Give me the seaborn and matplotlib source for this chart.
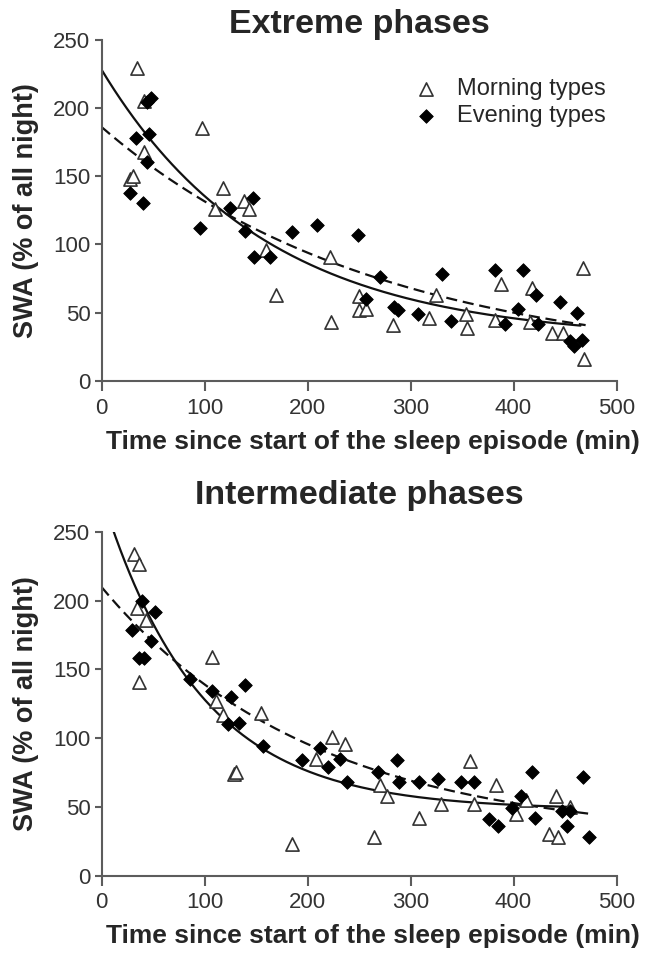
import numpy as np
import pandas as pd
import matplotlib
matplotlib.use("Agg")
import matplotlib.pyplot as plt
import seaborn as sns

# ---------------------------------------------------------------------------
# Slow-wave activity per sleep cycle, expressed as % of the all-night mean
# ---------------------------------------------------------------------------
groups = ["Morning types", "Evening types"]

# Extreme phases
ext_morning_time = [34, 41, 98, 41, 28, 31, 118, 138, 143, 110,
                    160, 169, 222, 223, 250, 250, 257, 283, 318, 325,
                    354, 355, 382, 388, 416, 418, 437, 448, 467, 468]
ext_morning_swa = [229, 205, 185, 168, 148, 150, 141, 132, 126, 126,
                   96, 63, 91, 43, 62, 52, 53, 41, 46, 63,
                   49, 39, 45, 71, 43, 68, 35, 35, 83, 16]
ext_evening_time = [44, 48, 33, 46, 44, 28, 40, 96, 125, 147,
                    139, 148, 164, 185, 209, 249, 270, 257, 284, 288,
                    307, 331, 339, 382, 392, 404, 409, 422, 424, 445,
                    455, 459, 466, 462]
ext_evening_swa = [204, 207, 178, 181, 160, 138, 130, 112, 127, 134,
                   110, 91, 91, 109, 114, 107, 76, 60, 54, 52,
                   49, 78, 44, 81, 42, 53, 81, 63, 42, 58,
                   29, 26, 30, 50]

# Intermediate phases
int_morning_time = [32, 36, 34, 43, 36, 107, 111, 118, 155, 224,
                    236, 129, 131, 208, 185, 265, 270, 277, 308, 330,
                    358, 362, 383, 402, 412, 434, 441, 443, 455]
int_morning_swa = [234, 227, 195, 186, 141, 159, 127, 117, 118, 101,
                   96, 74, 75, 85, 23, 28, 66, 58, 42, 52,
                   83, 52, 66, 45, 55, 30, 58, 28, 50]
int_evening_time = [39, 52, 30, 48, 36, 41, 86, 107, 126, 139,
                    123, 133, 157, 195, 212, 220, 232, 238, 268, 287,
                    289, 308, 327, 349, 362, 376, 385, 399, 407, 418,
                    421, 447, 452, 455, 467, 473]
int_evening_swa = [200, 192, 179, 171, 158, 158, 143, 134, 130, 139,
                   110, 111, 94, 84, 93, 79, 85, 68, 75, 84,
                   68, 68, 70, 68, 68, 41, 36, 49, 58, 75,
                   42, 47, 36, 47, 72, 28]

# One-phase exponential decay fits (morning, evening):
# SWA(t) = plateau + (start - plateau) * exp(-rate * t)
ext_fit_start = [228, 186]
ext_fit_plateau = [30, 10]
ext_fit_rate = [0.0063, 0.0037]
ext_fit_end = [465, 470]

int_fit_start = [277, 210]
int_fit_plateau = [48, 27]
int_fit_rate = [0.0105, 0.0049]
int_fit_end = [455, 473]

panel_titles = ["Extreme phases", "Intermediate phases"]
x_ticks = [0, 100, 200, 300, 400, 500]
y_ticks = [0, 50, 100, 150, 200, 250]
x_label = "Time since start of the sleep episode (min)"
y_label = "SWA (% of all night)"

# ---------------------------------------------------------------------------
sns.set_style("ticks")
plt.rcParams["font.family"] = ["Liberation Sans", "DejaVu Sans"]

AXIS_GREY = "#5c5c5c"
TICK_TEXT = "#333333"


def points_frame(m_t, m_y, e_t, e_y):
    return pd.concat([
        pd.DataFrame({"time": m_t, "swa": m_y, "group": groups[0]}),
        pd.DataFrame({"time": e_t, "swa": e_y, "group": groups[1]}),
    ], ignore_index=True)


def fit_frame(start, plateau, rate, end):
    frames = []
    for g, s0, p, k, t_end in zip(groups, start, plateau, rate, end):
        t = np.linspace(0, t_end, 300)
        frames.append(pd.DataFrame({"time": t,
                                    "swa": p + (s0 - p) * np.exp(-k * t),
                                    "group": g}))
    return pd.concat(frames, ignore_index=True)


panels = [
    (points_frame(ext_morning_time, ext_morning_swa, ext_evening_time, ext_evening_swa),
     fit_frame(ext_fit_start, ext_fit_plateau, ext_fit_rate, ext_fit_end)),
    (points_frame(int_morning_time, int_morning_swa, int_evening_time, int_evening_swa),
     fit_frame(int_fit_start, int_fit_plateau, int_fit_rate, int_fit_end)),
]

fig = plt.figure(figsize=(6.47, 9.6), dpi=100)
axes = [fig.add_axes([0.1569, 0.6031, 0.7960, 0.3557]),
        fig.add_axes([0.1569, 0.0880, 0.7960, 0.3578])]

for i, (ax, (pts, fit), title) in enumerate(zip(axes, panels, panel_titles)):
    morning_fit = fit[fit["group"] == groups[0]]
    evening_fit = fit[fit["group"] == groups[1]]
    sns.lineplot(data=morning_fit, x="time", y="swa", color="#111111",
                 lw=1.6, ax=ax, zorder=2, legend=False)
    sns.lineplot(data=evening_fit, x="time", y="swa", color="#111111",
                 lw=1.6, ax=ax, zorder=2, legend=False,
                 linestyle=(0, (5, 2.6)))

    m = pts[pts["group"] == groups[0]]
    e = pts[pts["group"] == groups[1]]
    sns.scatterplot(data=m, x="time", y="swa", marker="^", s=90,
                    color="white", edgecolor="#333333", linewidth=1.2,
                    ax=ax, zorder=3, label=groups[0])
    sns.scatterplot(data=e, x="time", y="swa", marker="D", s=48,
                    color="black", edgecolor="black", linewidth=0.6,
                    ax=ax, zorder=3, label=groups[1])

    ax.set_xlim(0, 500)
    ax.set_ylim(0, 250)
    ax.set_xticks(x_ticks)
    ax.set_yticks(y_ticks)
    for side in ("top", "right"):
        ax.spines[side].set_visible(False)
    for side in ("left", "bottom"):
        ax.spines[side].set_color(AXIS_GREY)
        ax.spines[side].set_linewidth(1.5)
    ax.tick_params(axis="x", direction="out", length=7, width=1.5,
                   color=AXIS_GREY, labelsize=16, labelcolor=TICK_TEXT, pad=5)
    ax.tick_params(axis="y", direction="out", length=5, width=1.5,
                   color=AXIS_GREY, labelsize=16, labelcolor=TICK_TEXT, pad=3)

    ax.set_xlabel(x_label, fontsize=19, fontweight="bold")
    ax.set_ylabel(y_label, fontsize=19.5, fontweight="bold")
    ax.xaxis.set_label_coords(0.527, -0.142)
    ax.yaxis.set_label_coords(-0.122, 0.5)
    ax.set_title(title, fontsize=24.5, fontweight="bold",
                 pad=2 if i == 0 else 20)

    if i == 0:
        ax.legend(loc="upper left", bbox_to_anchor=(0.608, 0.888),
                  frameon=False, borderpad=0, borderaxespad=0,
                  handlelength=1.0, handletextpad=0.8, labelspacing=0.22,
                  fontsize=17)
    else:
        leg = ax.get_legend()
        if leg is not None:
            leg.remove()

fig.savefig("out.png", dpi=100)
